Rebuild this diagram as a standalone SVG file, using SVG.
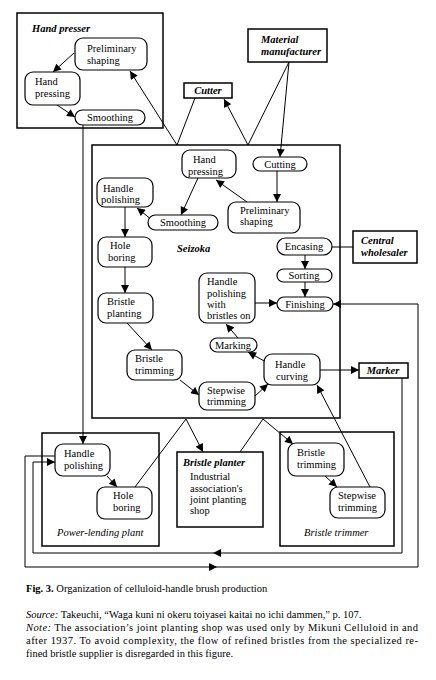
<svg xmlns="http://www.w3.org/2000/svg" width="436" height="680" viewBox="0 0 436 680">
<defs>
<marker id="ah" viewBox="0 0 10 10" refX="10" refY="5" markerWidth="9" markerHeight="8" orient="auto" markerUnits="userSpaceOnUse"><path d="M0,0 L10,5 L0,10 z" fill="#000"/></marker>
<style>
text{font-family:"Liberation Serif","Times New Roman",serif;font-size:10.5px;fill:#000}
.c{text-anchor:middle}
.bi{font-weight:bold;font-style:italic}
.it{font-style:italic}
.box{fill:#fff;stroke:#000;stroke-width:1.5}
.node{fill:#fff;stroke:#000;stroke-width:1.2}
.ln{fill:none;stroke:#000;stroke-width:1}
.ar{fill:none;stroke:#000;stroke-width:1;marker-end:url(#ah)}
.cap{font-size:10.5px}
</style>
</defs>
<rect width="436" height="680" fill="#fff"/>

<!-- Containers -->
<g id="hand-presser">
<rect class="box" x="17" y="13" width="146" height="115"/>
<text class="bi" x="32" y="32">Hand presser</text>
</g>
<g id="seizoka">
<rect class="box" x="92" y="145" width="248" height="273"/>
<text class="bi" x="177" y="252">Seizoka</text>
</g>
<g id="power-lending-plant">
<rect class="box" x="42" y="433" width="117" height="113"/>
<text class="it" x="57" y="536">Power-lending plant</text>
</g>
<g id="bristle-planter">
<rect class="box" x="177" y="452" width="86" height="75"/>
<text class="bi" x="183" y="466">Bristle planter</text>
<text x="190" y="480">Industrial</text>
<text x="190" y="492">association's</text>
<text x="190" y="503">joint planting</text>
<text x="190" y="514">shop</text>
</g>
<g id="bristle-trimmer">
<rect class="box" x="280" y="432" width="114" height="114"/>
<text class="it" x="304" y="536">Bristle trimmer</text>
</g>

<!-- Connectors -->
<g id="connectors">
<path class="ar" d="M74,53 L53,72"/>
<path class="ar" d="M57,105 L75,117"/>
<path class="ar" d="M177,145 L130,71"/>
<path class="ln" d="M195,98 L177,145"/>
<path class="ar" d="M248,145 L224,99"/>
<path class="ln" d="M289,62 L248,145"/>
<path class="ar" d="M289,62 L280,157"/>
<path class="ar" d="M277,171 L277,202"/>
<path class="ar" d="M247,202 L216,180"/>
<path class="ar" d="M198,178 L181,215"/>
<path class="ar" d="M152,220 L137,208"/>
<path class="ar" d="M125,207 L125,237"/>
<path class="ar" d="M125,267 L125,293"/>
<path class="ar" d="M127,323 L152,350"/>
<path class="ar" d="M180,380 L199,395"/>
<path class="ar" d="M254,397 L268,384"/>
<path class="ar" d="M266,362 L248,352"/>
<path class="ar" d="M238,338 L226,324"/>
<path class="ar" d="M255,303 L277,303"/>
<path class="ar" d="M305,255 L305,269"/>
<path class="ar" d="M305,282 L305,297"/>
<path class="ln" d="M332,247 L353,247"/>
<path class="ar" d="M320,370 L359,370"/>
<path class="ar" d="M370,487 L317,385"/>
<path class="ar" d="M83,125 L83,444"/>
<path class="ar" d="M107,476 L117,487"/>
<path class="ln" d="M135,487 L186,419"/>
<path class="ar" d="M186,419 L203,452"/>
<path class="ln" d="M263,419 L240,452"/>
<path class="ar" d="M263,419 L293,444"/>
<path class="ar" d="M325,476 L337,487"/>
<path class="ar" d="M402,378 V553 H213"/>
<path class="ar" d="M213,553 H33 V462 H55"/>
<path class="ar" d="M55,456 H25 V567 H217"/>
<path class="ar" d="M217,567 H418 V304 H333"/>
</g>

<!-- Hand presser nodes -->
<g id="hp-preliminary-shaping"><rect class="node" x="75" y="38" width="72" height="32" rx="8"/><text x="87" y="52">Preliminary</text><text x="87" y="64">shaping</text></g>
<g id="hp-hand-pressing"><rect class="node" x="25" y="72" width="55" height="33" rx="8"/><text x="35" y="85">Hand</text><text x="35" y="97">pressing</text></g>
<g id="hp-smoothing"><rect class="node" x="75" y="110" width="70" height="15" rx="7.5"/><text class="c" x="110" y="121">Smoothing</text></g>

<!-- Outside actors -->
<g id="cutter"><rect class="box" x="184" y="83" width="48" height="15"/><text class="bi c" x="208" y="94">Cutter</text></g>
<g id="material-manufacturer"><rect class="box" x="248" y="29" width="79" height="33"/><text class="bi" x="261" y="43">Material</text><text class="bi" x="261" y="55">manufacturer</text></g>
<g id="central-wholesaler"><rect class="box" x="353" y="231" width="64" height="32"/><text class="bi" x="361" y="244">Central</text><text class="bi" x="361" y="256">wholesaler</text></g>
<g id="marker"><rect class="box" x="359" y="363" width="49" height="15"/><text class="bi c" x="383" y="374">Marker</text></g>

<!-- Seizoka nodes -->
<g id="sz-hand-pressing"><rect class="node" x="182" y="150" width="54" height="28" rx="8"/><text x="193" y="163">Hand</text><text x="188" y="175">pressing</text></g>
<g id="sz-cutting"><rect class="node" x="253" y="157" width="54" height="14" rx="7"/><text class="c" x="280" y="168">Cutting</text></g>
<g id="sz-handle-polishing"><rect class="node" x="97" y="178" width="56" height="29" rx="8"/><text x="103" y="192">Handle</text><text x="101" y="203">polishing</text></g>
<g id="sz-smoothing"><rect class="node" x="148" y="215" width="70" height="15" rx="7.5"/><text class="c" x="183" y="226">Smoothing</text></g>
<g id="sz-preliminary-shaping"><rect class="node" x="228" y="202" width="72" height="31" rx="8"/><text x="240" y="214">Preliminary</text><text x="240" y="225">shaping</text></g>
<g id="sz-hole-boring"><rect class="node" x="98" y="237" width="54" height="30" rx="8"/><text x="110" y="249">Hole</text><text x="108" y="261">boring</text></g>
<g id="sz-encasing"><rect class="node" x="277" y="238" width="55" height="17" rx="8.5"/><text class="c" x="304" y="250">Encasing</text></g>
<g id="sz-sorting"><rect class="node" x="277" y="269" width="55" height="13" rx="6.5"/><text class="c" x="304" y="279">Sorting</text></g>
<g id="sz-finishing"><rect class="node" x="277" y="297" width="56" height="14" rx="7"/><text class="c" x="305" y="308">Finishing</text></g>
<g id="sz-handle-polishing-bristles"><rect class="node" x="199" y="273" width="56" height="50" rx="8"/><text x="207" y="285">Handle</text><text x="207" y="297">polishing</text><text x="207" y="308">with</text><text x="207" y="319">bristles on</text></g>
<g id="sz-bristle-planting"><rect class="node" x="98" y="293" width="55" height="30" rx="8"/><text x="107" y="305">Bristle</text><text x="107" y="317">planting</text></g>
<g id="sz-marking"><rect class="node" x="210" y="338" width="47" height="14" rx="7"/><text class="c" x="233" y="349">Marking</text></g>
<g id="sz-handle-curving"><rect class="node" x="264" y="354" width="56" height="31" rx="8"/><text x="275" y="368">Handle</text><text x="276" y="380">curving</text></g>
<g id="sz-bristle-trimming"><rect class="node" x="127" y="350" width="55" height="30" rx="8"/><text x="135" y="362">Bristle</text><text x="135" y="374">trimming</text></g>
<g id="sz-stepwise-trimming"><rect class="node" x="199" y="382" width="56" height="28" rx="8"/><text x="207" y="394">Stepwise</text><text x="207" y="405">trimming</text></g>

<!-- Power-lending plant nodes -->
<g id="pl-handle-polishing"><rect class="node" x="55" y="444" width="55" height="32" rx="8"/><text x="64" y="457">Handle</text><text x="64" y="469">polishing</text></g>
<g id="pl-hole-boring"><rect class="node" x="97" y="487" width="55" height="32" rx="8"/><text x="113" y="499">Hole</text><text x="113" y="511">boring</text></g>

<!-- Bristle trimmer nodes -->
<g id="bt-bristle-trimming"><rect class="node" x="288" y="443" width="56" height="33" rx="8"/><text x="297" y="456">Bristle</text><text x="297" y="468">trimming</text></g>
<g id="bt-stepwise-trimming"><rect class="node" x="330" y="487" width="55" height="31" rx="8"/><text x="338" y="499">Stepwise</text><text x="338" y="511">trimming</text></g>

<!-- Caption -->
<g id="caption">
<text class="cap" x="26" y="592"><tspan font-weight="bold">Fig. 3.</tspan> Organization of celluloid-handle brush production</text>
<text class="cap" x="26" y="618"><tspan font-style="italic">Source:</tspan> Takeuchi, “Waga kuni ni okeru toiyasei kaitai no ichi dammen,” p. 107.</text>
<text class="cap" x="26" y="631" textLength="392" lengthAdjust="spacing"><tspan font-style="italic">Note:</tspan> The association’s joint planting shop was used only by Mikuni Celluloid in and</text>
<text class="cap" x="26" y="644" textLength="392" lengthAdjust="spacing">after 1937. To avoid complexity, the flow of refined bristles from the specialized re-</text>
<text class="cap" x="26" y="657">fined bristle supplier is disregarded in this figure.</text>
</g>
</svg>
